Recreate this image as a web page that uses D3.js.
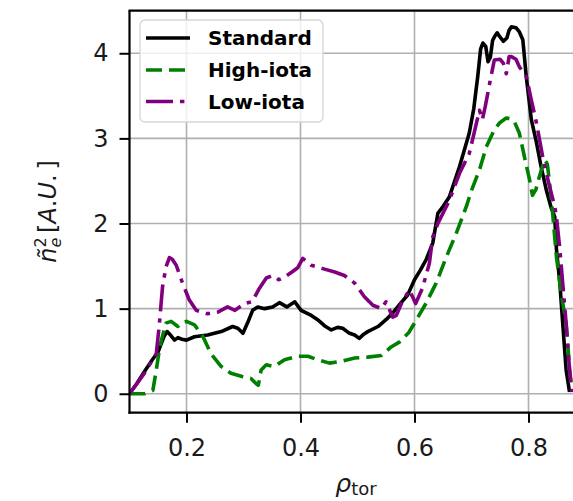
<!DOCTYPE html>
<html>
<head>
<meta charset="utf-8">
<script src="https://cdn.jsdelivr.net/npm/d3@7"></script>
<style>
  html, body { margin: 0; padding: 0; background: #fff; }
  svg { display: block; }
  text { font-family: "DejaVu Sans", sans-serif; }
</style>
</head>
<body>
<svg id="chart" width="573" height="501"></svg>
<script>
// Radial profiles of density fluctuation amplitude for three configurations
const standardRho = [0.100,0.113,0.126,0.140,0.150,0.161,0.166,0.172,0.179,0.185,0.192,0.200,0.214,0.237,0.261,0.281,0.290,0.299,0.307,0.316,0.325,0.337,0.351,0.363,0.376,0.390,0.401,0.419,0.430,0.442,0.454,0.465,0.474,0.486,0.495,0.503,0.511,0.518,0.536,0.550,0.562,0.574,0.588,0.600,0.610,0.620,0.632,0.641,0.650,0.661,0.679,0.696,0.704,0.711,0.716,0.720,0.725,0.729,0.733,0.737,0.740,0.745,0.749,0.756,0.762,0.766,0.770,0.778,0.784,0.790,0.796,0.805,0.814,0.822,0.831,0.840,0.846,0.849,0.855,0.860,0.866,0.872,0.876];
const standardAmp = [0,0.12,0.26,0.40,0.49,0.68,0.73,0.69,0.63,0.66,0.64,0.63,0.67,0.69,0.73,0.79,0.77,0.71,0.83,0.98,1.02,1.00,1.02,1.07,1.02,1.08,0.98,0.92,0.87,0.80,0.75,0.78,0.77,0.71,0.69,0.65,0.70,0.73,0.79,0.87,0.95,1.05,1.16,1.34,1.45,1.57,1.77,2.12,2.20,2.31,2.67,3.06,3.35,3.73,4.05,4.12,4.08,3.90,3.95,4.15,4.19,4.24,4.20,4.14,4.18,4.27,4.31,4.30,4.25,4.16,3.73,3.22,2.95,2.67,2.40,2.18,2.08,1.70,1.30,0.83,0.28,0.02];

const highRho = [0.100,0.126,0.141,0.147,0.152,0.156,0.164,0.173,0.185,0.193,0.200,0.214,0.229,0.243,0.261,0.278,0.299,0.313,0.322,0.326,0.331,0.340,0.354,0.372,0.395,0.413,0.430,0.451,0.471,0.495,0.518,0.542,0.559,0.574,0.590,0.600,0.620,0.638,0.656,0.673,0.691,0.700,0.714,0.726,0.740,0.749,0.761,0.768,0.775,0.784,0.793,0.802,0.807,0.813,0.819,0.828,0.833,0.840,0.849,0.858,0.866,0.872,0.876];
const highAmp = [0,0,0.04,0.28,0.50,0.63,0.83,0.85,0.79,0.84,0.85,0.81,0.67,0.47,0.32,0.24,0.20,0.18,0.12,0.10,0.28,0.34,0.32,0.40,0.44,0.44,0.40,0.36,0.38,0.42,0.43,0.45,0.55,0.61,0.72,0.83,1.06,1.30,1.61,1.88,2.20,2.39,2.63,2.90,3.10,3.18,3.24,3.23,3.20,3.06,2.78,2.51,2.33,2.40,2.55,2.75,2.70,2.30,1.61,1.15,0.83,0.30,0.04];

const lowRho = [0.100,0.126,0.147,0.152,0.158,0.164,0.170,0.175,0.182,0.193,0.205,0.217,0.237,0.255,0.272,0.285,0.302,0.315,0.328,0.340,0.351,0.362,0.372,0.385,0.395,0.404,0.419,0.439,0.460,0.477,0.495,0.512,0.527,0.542,0.550,0.562,0.568,0.577,0.591,0.602,0.614,0.626,0.632,0.641,0.661,0.679,0.696,0.714,0.719,0.724,0.734,0.740,0.750,0.756,0.761,0.766,0.770,0.778,0.784,0.796,0.805,0.814,0.825,0.837,0.846,0.849,0.855,0.860,0.866,0.872,0.876];
const lowAmp = [0,0.24,0.47,0.79,1.26,1.49,1.60,1.58,1.51,1.30,1.10,0.98,0.94,0.96,1.02,0.98,1.06,1.08,1.24,1.36,1.39,1.34,1.37,1.43,1.48,1.59,1.51,1.47,1.43,1.39,1.30,1.14,1.04,1.00,1.08,0.90,0.92,1.06,1.22,1.06,1.24,1.53,1.84,2.00,2.27,2.59,2.82,3.33,3.22,3.37,3.72,3.92,3.93,3.88,3.76,3.96,3.96,3.93,3.84,3.73,3.45,3.18,2.78,2.43,2.20,2.08,1.70,1.30,0.83,0.28,0.02];

const seriesNames = ["Standard", "High-iota", "Low-iota"];
const xTicks = [0.2, 0.4, 0.6, 0.8];
const yTicks = [0, 1, 2, 3, 4];

const series = [
  { name: seriesNames[0], xs: standardRho, ys: standardAmp, color: "#000000", dash: null },
  { name: seriesNames[1], xs: highRho, ys: highAmp, color: "#008000", dash: "16,7" },
  { name: seriesNames[2], xs: lowRho, ys: lowAmp, color: "#800080", dash: "27,7,4.4,7" }
];

const svg = d3.select("#chart");
const plotLeft = 129.5, plotRight = 574.1, plotTop = 10.7, plotBottom = 412.7;

const x = d3.scaleLinear().domain([0.1, 0.88]).range([plotLeft, plotRight]);
const y = d3.scaleLinear().domain([-0.2225, 4.5]).range([plotBottom, plotTop]);

svg.append("defs").append("clipPath").attr("id", "plotClip")
  .append("rect").attr("x", plotLeft).attr("y", plotTop)
  .attr("width", plotRight - plotLeft).attr("height", plotBottom - plotTop);

// grid
const grid = svg.append("g").attr("stroke", "#b0b0b0").attr("stroke-width", 1.6);
grid.selectAll("line.gx").data(xTicks).join("line").attr("class", "gx")
  .attr("x1", d => x(d)).attr("x2", d => x(d)).attr("y1", plotTop).attr("y2", plotBottom);
grid.selectAll("line.gy").data(yTicks).join("line").attr("class", "gy")
  .attr("x1", plotLeft).attr("x2", plotRight).attr("y1", d => y(d)).attr("y2", d => y(d));

// curves
const plot = svg.append("g").attr("clip-path", "url(#plotClip)");
series.forEach(s => {
  const pts = s.xs.map((v, i) => [v, s.ys[i]]);
  const line = d3.line().x(d => x(d[0])).y(d => y(d[1]));
  plot.append("path").datum(pts)
    .attr("d", line)
    .attr("fill", "none")
    .attr("stroke", s.color)
    .attr("stroke-width", 3.6)
    .attr("stroke-linejoin", "round")
    .attr("stroke-dasharray", s.dash);
});

// axes
const xAxis = svg.append("g").attr("transform", `translate(0,${plotBottom})`)
  .call(d3.axisBottom(x).tickValues(xTicks).tickFormat(d3.format(".1f")).tickSize(10).tickPadding(16).tickSizeOuter(0));
const yAxis = svg.append("g").attr("transform", `translate(${plotLeft},0)`)
  .call(d3.axisLeft(y).tickValues(yTicks).tickFormat(d3.format("d")).tickSize(10).tickPadding(11).tickSizeOuter(0));
[xAxis, yAxis].forEach(ax => {
  ax.select(".domain").remove();
  ax.selectAll(".tick line").attr("stroke", "#000").attr("stroke-width", 2);
  ax.selectAll(".tick text").attr("fill", "#1a1a1a")
    .style("font-family", "'DejaVu Sans', sans-serif").style("font-size", "24px");
});

// spines
svg.append("line").attr("x1", plotLeft).attr("x2", plotLeft).attr("y1", plotTop).attr("y2", plotBottom + 1)
  .attr("stroke", "#000").attr("stroke-width", 2.2);
svg.append("line").attr("x1", plotLeft - 1).attr("x2", plotRight).attr("y1", plotBottom).attr("y2", plotBottom)
  .attr("stroke", "#000").attr("stroke-width", 2.2);
svg.append("line").attr("x1", plotLeft - 1).attr("x2", plotRight).attr("y1", plotTop).attr("y2", plotTop)
  .attr("stroke", "#000").attr("stroke-width", 2.2);

// legend
const lg = svg.append("g");
lg.append("rect").attr("x", 140).attr("y", 20).attr("width", 183).attr("height", 102)
  .attr("rx", 5).attr("fill", "#fff").attr("fill-opacity", 0.8)
  .attr("stroke", "#d6d6d6").attr("stroke-width", 1.3);
const rows = [38, 70, 101.5];
series.forEach((s, i) => {
  lg.append("line").attr("x1", 146).attr("x2", 190).attr("y1", rows[i]).attr("y2", rows[i])
    .attr("stroke", s.color).attr("stroke-width", 3.6).attr("stroke-dasharray", s.dash);
  lg.append("text").attr("x", 208).attr("y", rows[i]).attr("dy", "0.36em")
    .attr("font-size", 20).attr("font-weight", "bold").attr("fill", "#000").text(s.name);
});

// y-axis label: ñ_e^2 [A.U.]
const yl = svg.append("g").attr("transform", "translate(56,211.5) rotate(-90)");
const yt = yl.append("text").attr("text-anchor", "middle").attr("font-size", 24).attr("fill", "#1a1a1a");
yt.append("tspan").attr("font-style", "italic").text("ñ");
yt.append("tspan").attr("font-size", 16).attr("dy", -10).text("2");
yt.append("tspan").attr("font-size", 16).attr("font-style", "italic").attr("dx", -10.2).attr("dy", 15).text("e");
yt.append("tspan").attr("dy", -5).text("\u2009[");
yt.append("tspan").attr("font-style", "italic").text("A");
yt.append("tspan").text(".");
yt.append("tspan").attr("font-style", "italic").text("U");
yt.append("tspan").text(".\u2009]");

// x-axis label: ρ_tor
const xt = svg.append("text").attr("x", 356).attr("y", 492).attr("text-anchor", "middle")
  .attr("font-size", 25).attr("fill", "#1a1a1a");
xt.append("tspan").attr("font-style", "italic").text("ρ");
xt.append("tspan").attr("font-size", 18).attr("dy", 3).text("tor");
</script>
</body>
</html>
